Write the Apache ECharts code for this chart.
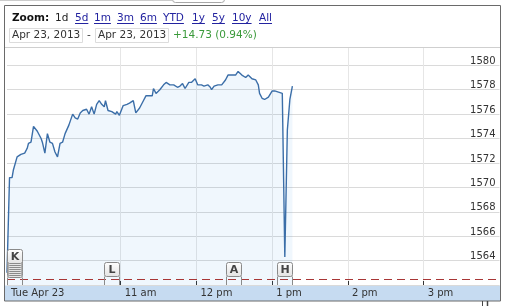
<!DOCTYPE html>
<html><head><meta charset="utf-8">
<script src="https://cdn.jsdelivr.net/npm/echarts@6/dist/echarts.min.js"></script>
<style>html,body{margin:0;padding:0;background:#fff}#c{width:507px;height:306px}</style>
</head><body><div id="c"></div>
<script>
// ---------- data ----------
const priceTimes = ['9:30','9:32','9:34','9:35','9:38','9:41','9:44','9:46','9:47','9:49','9:51','9:54','9:57','9:58',
 '10:00','10:02','10:04','10:06','10:08','10:10','10:12','10:14','10:16','10:19','10:22','10:24','10:26','10:28','10:30',
 '10:33','10:35','10:37','10:39','10:41','10:43','10:45','10:46','10:47','10:48','10:50','10:53','10:56','10:57','10:59',
 '11:02','11:05','11:07','11:10','11:12','11:15','11:18','11:20','11:23','11:25','11:26','11:28','11:31','11:34','11:36',
 '11:39','11:42','11:45','11:47','11:49','11:51','11:54','11:56','11:59','12:01','12:02','12:04','12:06','12:07','12:09',
 '12:11','12:12','12:14','12:17','12:20','12:23','12:25','12:28','12:31','12:33','12:36','12:39','12:41','12:44','12:47',
 '12:49','12:50','12:52','12:54','12:57','13:00','13:02','13:05','13:08','13:09','13:10','13:12','13:14','13:16'];
const priceValues = [1563.0,1570.8,1570.8,1571.4,1572.5,1572.7,1572.8,1573.2,1573.6,1573.7,1575.0,1574.6,1574.0,1573.7,
 1572.8,1574.4,1573.7,1573.6,1572.9,1572.5,1573.6,1573.7,1574.4,1575.1,1576.0,1575.7,1575.6,1576.1,1576.3,
 1576.4,1576.0,1576.6,1576.0,1576.8,1577.1,1576.8,1576.9,1576.6,1577.1,1576.3,1576.2,1576.0,1576.2,1575.9,
 1576.7,1576.8,1576.9,1577.1,1576.1,1576.5,1577.1,1577.5,1577.5,1577.5,1578.1,1577.7,1578.0,1578.4,1578.6,
 1578.4,1578.4,1578.2,1578.3,1578.5,1578.1,1578.6,1578.6,1578.9,1578.4,1578.5,1578.4,1578.3,1578.4,1578.4,
 1578.2,1578.0,1578.3,1578.4,1578.4,1578.8,1579.2,1579.2,1579.2,1579.5,1579.2,1579.0,1579.2,1578.9,1578.8,
 1578.4,1577.7,1577.3,1577.2,1577.4,1577.9,1577.9,1577.8,1577.7,1577.6,1564.3,1574.7,1577.2,1578.3];
const prevClose = 1562.5;
const yMin = 1562, yMax = 1581.5;
const yTickLabels = [1564,1566,1568,1570,1572,1574,1576,1578,1580];
const xTickTimes = ['9:30','11:00','12:00','13:00','14:00','15:00'];
const xTickLabels = ['Tue Apr 23','11 am','12 pm','1 pm','2 pm','3 pm'];
const flagTimes = ['9:36','10:53','12:29','13:10'];
const flagLetters = ['K','L','A','H'];
const flagStack = [8,1,1,1];
const zoomLabel = 'Zoom:';
const zoomButtons = ['1d','5d','1m','3m','6m','YTD','1y','5y','10y','All'];
const rangeFrom = 'Apr 23, 2013', rangeTo = 'Apr 23, 2013', changeText = '+14.73 (0.94%)';

// ---------- categories (one per minute, 9:30 - 16:00) ----------
const categories = [];
for (let m = 570; m <= 960; m++) categories.push(Math.floor(m/60) + ':' + String(m%60).padStart(2,'0'));
const tickIdx = xTickTimes.map(t => categories.indexOf(t));

// ---------- layout helpers ----------
const FONT = 'DejaVu Sans';
const ctx = document.createElement('canvas').getContext('2d');
function tw(text, font){ ctx.font = font; return ctx.measureText(text).width; }
const zoomX = [55,75,94,117,140,163,192,212,232,259];

const graphics = [];
graphics.push({type:'line', shape:{x1:0,y1:0.5,x2:172,y2:0.5}, style:{stroke:'#cccccc',lineWidth:1}, z:50});
graphics.push({type:'rect', shape:{x:172.5,y:-6,width:52,height:8.5,r:3}, style:{fill:'#fff',stroke:'#a8a8a8',lineWidth:1}, z:50});
graphics.push({type:'rect', shape:{x:5,y:285.5,width:495,height:15.5}, style:{fill:'#c6dbf1'}, z:-10});
graphics.push({type:'line', shape:{x1:5,y1:47.5,x2:500,y2:47.5}, style:{stroke:'#cfcfcf',lineWidth:1}, z:50});
graphics.push({type:'rect', shape:{x:4.5,y:5.5,width:496,height:295.5}, style:{fill:'none',stroke:'#6a6a6a',lineWidth:1}, z:100});
graphics.push({type:'line', shape:{x1:482.5,y1:301,x2:482.5,y2:306}, style:{stroke:'#444',lineWidth:1}, z:100});
graphics.push({type:'line', shape:{x1:487.5,y1:301,x2:487.5,y2:306}, style:{stroke:'#444',lineWidth:1.5}, z:100});

const hFont = '10.5px "' + FONT + '"';
graphics.push({type:'text', x:12, y:18, style:{text:zoomLabel, font:'bold 10.5px "'+FONT+'"', fill:'#111', verticalAlign:'middle', align:'left'}, z:50});
zoomButtons.forEach((b,i)=>{
  const sel = i === 0;
  graphics.push({type:'text', x:zoomX[i], y:18, style:{text:b, font:hFont, fill: sel ? '#222' : '#2323a0', verticalAlign:'middle', align:'left'}, z:50});
  if (!sel) {
    const w = tw(b, hFont);
    graphics.push({type:'line', shape:{x1:zoomX[i], y1:23.5, x2:zoomX[i]+w, y2:23.5}, style:{stroke:'#2323a0',lineWidth:1}, z:50});
  }
});
graphics.push({type:'rect', shape:{x:9.5,y:28.5,width:73,height:14}, style:{fill:'#fff',stroke:'#dcdcdc',lineWidth:1}, z:50});
graphics.push({type:'rect', shape:{x:95.5,y:28.5,width:73,height:14}, style:{fill:'#fff',stroke:'#dcdcdc',lineWidth:1}, z:50});
graphics.push({type:'text', x:12, y:35.5, style:{text:rangeFrom, font:hFont, fill:'#333', verticalAlign:'middle', align:'left'}, z:51});
graphics.push({type:'text', x:87, y:35.5, style:{text:'-', font:hFont, fill:'#333', verticalAlign:'middle', align:'left'}, z:51});
graphics.push({type:'text', x:98, y:35.5, style:{text:rangeTo, font:hFont, fill:'#333', verticalAlign:'middle', align:'left'}, z:51});
graphics.push({type:'text', x:173, y:35.5, style:{text:changeText, font:hFont, fill:'#3a9a3a', verticalAlign:'middle', align:'left'}, z:51});

const flagFill = new echarts.graphic.LinearGradient(0,0,0,1,[{offset:0,color:'#ffffff'},{offset:1,color:'#e2e2e2'}]);

const chart = echarts.init(document.getElementById('c'), null, {renderer:'canvas'});
chart.setOption({
  animation: false,
  backgroundColor: '#fff',
  grid: {left:7, right:7.5, top:47, bottom:21, containLabel:false, outerBoundsMode:'none'},
  xAxis: {
    type:'category', data:categories, boundaryGap:false,
    axisLine:{show:false},
    axisTick:{show:true, inside:true, length:4, interval:(i)=>tickIdx.includes(i), lineStyle:{color:'#333',width:1}},
    axisLabel:{show:true, interval:(i)=>tickIdx.includes(i), align:'left', padding:[0,0,0,4], margin:3,
      fontFamily:FONT, fontSize:10, color:'#333',
      formatter:(v)=>{const k = xTickTimes.indexOf(v); return k>=0 ? xTickLabels[k] : '';}},
    splitLine:{show:true, interval:(i)=>tickIdx.includes(i) && i>0, lineStyle:{color:'#e6e6e6',width:1}}
  },
  yAxis: {
    type:'value', position:'right', min:yMin, max:yMax, interval:2, scale:true,
    axisLine:{show:false}, axisTick:{show:false},
    axisLabel:{inside:true, margin:4, verticalAlign:'bottom', lineHeight:8, padding:0, fontFamily:FONT, fontSize:10, color:'#333',
      formatter:(v)=> yTickLabels.includes(Math.round(v*10)/10) ? String(v) : ''},
    splitLine:{show:true, lineStyle:{color:'#dadada',width:1}}
  },
  series: [
    {
      type:'line', data: priceTimes.map((t,i)=>[t, priceValues[i]]),
      showSymbol:false, symbol:'none',
      lineStyle:{color:'#3b6ea8', width:1.4},
      areaStyle:{color:'rgba(40,140,230,0.1)', origin:'start'},
      z:3,
      markLine:{silent:true, symbol:['none','none'], label:{show:false},
        lineStyle:{color:'#a83636', type:[8,5], width:1.2},
        data:[{yAxis:prevClose}]}
    },
    {
      type:'custom', coordinateSystem:'cartesian2d', z:5, clip:false,
      data: flagTimes.map(t=>[t, yMin]),
      renderItem:(params, api)=>{
        const p = api.coord([api.value(0), api.value(1)]);
        const n = flagStack[params.dataIndex];
        const letter = flagLetters[params.dataIndex];
        const w = 15, h = 14;
        const x0 = Math.round(p[0]-w/2)+0.5;
        const children = [];
        let topBottom = 0;
        for (let j=0;j<n;j++){
          const bottom = Math.round(p[1] - 8 - 2*j - (n===1?1:0)) + 0.5;
          if (j===0){
            children.push({type:'line', shape:{x1:x0,y1:bottom,x2:x0,y2:p[1]}, style:{stroke:'#8a8a8a',lineWidth:1}});
            children.push({type:'line', shape:{x1:x0+w,y1:bottom,x2:x0+w,y2:p[1]}, style:{stroke:'#8a8a8a',lineWidth:1}});
          }
          children.push({type:'rect', shape:{x:x0, y:bottom-h, width:w, height:h, r:2}, style:{fill:flagFill, stroke:'#8a8a8a', lineWidth:1}});
          topBottom = bottom;
        }
        children.push({type:'text', style:{text:letter, x:x0+w/2, y:topBottom-h/2+0.5, align:'center', textAlign:'center', verticalAlign:'middle', textVerticalAlign:'middle', font:'bold 11px "'+FONT+'"', fill:'#444'}});
        return {type:'group', children};
      }
    }
  ],
  graphic: graphics
});
</script>
</body></html>
